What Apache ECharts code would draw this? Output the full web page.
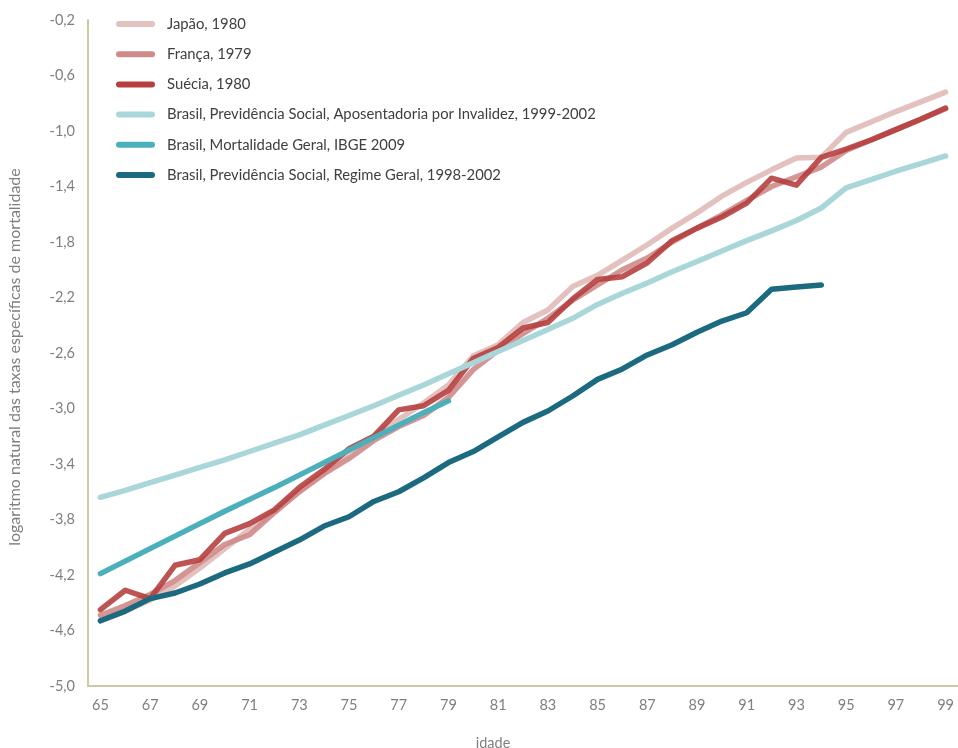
<!DOCTYPE html>
<html>
<head>
<meta charset="utf-8">
<script src="https://cdn.jsdelivr.net/npm/echarts@6/dist/echarts.min.js"></script>
<style>html,body{margin:0;padding:0;background:#fff}#c{width:958px;height:748px}</style>
</head>
<body>
<div id="c"></div>
<script>
const idades = ['65','66','67','68','69','70','71','72','73','74','75','76','77','78','79','80','81','82','83','84','85','86','87','88','89','90','91','92','93','94','95','96','97','98','99'];
const japao = [-4.53,-4.46,-4.38,-4.28,-4.15,-4.01,-3.87,-3.74,-3.60,-3.46,-3.31,-3.20,-3.08,-2.96,-2.83,-2.62,-2.54,-2.38,-2.29,-2.12,-2.04,-1.93,-1.82,-1.70,-1.59,-1.47,-1.37,-1.28,-1.195,-1.19,-1.01,-0.935,-0.86,-0.79,-0.72];
const franca = [-4.49,-4.42,-4.34,-4.24,-4.11,-3.98,-3.91,-3.75,-3.60,-3.47,-3.36,-3.23,-3.13,-3.05,-2.92,-2.72,-2.58,-2.46,-2.35,-2.22,-2.11,-2.00,-1.915,-1.80,-1.70,-1.605,-1.50,-1.40,-1.33,-1.26,-1.14,-1.065,-0.99,-0.915,-0.84];
const suecia = [-4.45,-4.31,-4.37,-4.13,-4.09,-3.90,-3.83,-3.73,-3.57,-3.44,-3.29,-3.20,-3.01,-2.98,-2.87,-2.64,-2.56,-2.42,-2.38,-2.21,-2.07,-2.05,-1.95,-1.79,-1.70,-1.62,-1.52,-1.34,-1.39,-1.19,-1.13,-1.065,-0.99,-0.915,-0.835];
const invalidez = [-3.64,-3.59,-3.535,-3.48,-3.425,-3.37,-3.31,-3.25,-3.19,-3.12,-3.05,-2.98,-2.905,-2.83,-2.75,-2.67,-2.59,-2.51,-2.43,-2.35,-2.25,-2.17,-2.095,-2.015,-1.94,-1.865,-1.79,-1.72,-1.645,-1.555,-1.41,-1.35,-1.29,-1.235,-1.18];
const ibge = [-4.19,-4.10,-4.01,-3.92,-3.83,-3.74,-3.655,-3.57,-3.48,-3.39,-3.30,-3.21,-3.12,-3.03,-2.945];
const regimeGeral = [-4.53,-4.46,-4.37,-4.33,-4.265,-4.185,-4.12,-4.034,-3.948,-3.847,-3.78,-3.67,-3.60,-3.50,-3.39,-3.31,-3.205,-3.10,-3.018,-2.91,-2.79,-2.715,-2.614,-2.54,-2.45,-2.37,-2.31,-2.14,-2.125,-2.11];
const nomes = ['Japão, 1980','França, 1979','Suécia, 1980','Brasil, Previdência Social, Aposentadoria por Invalidez, 1999-2002','Brasil, Mortalidade Geral, IBGE 2009','Brasil, Previdência Social, Regime Geral, 1998-2002'];
const cores = ['#e2c1be','#cf8b89','#b6403f','#a8d6d9','#4bb0bc','#1b6a80'];
const dados = [japao, franca, suecia, invalidez, ibge, regimeGeral];

const FONT = 'Lato, "Open Sans", sans-serif';
const chart = echarts.init(document.getElementById('c'));
chart.setOption({
  animation: false,
  textStyle: {fontFamily: FONT},
  grid: {left: 88, right: 0, top: 20, bottom: 62, containLabel: false, outerBoundsMode: 'none'},
  legend: {
    data: nomes,
    orient: 'vertical',
    left: 111,
    top: 9,
    itemWidth: 39,
    itemHeight: 6,
    itemGap: 10.2,
    icon: 'path://M3,0 L36,0 A3,3 0 0 1 36,6 L3,6 A3,3 0 0 1 3,0 Z',
    textStyle: {fontFamily: FONT, fontSize: 14.8, color: '#404040', lineHeight: 20, padding: [0,0,0,7]}
  },
  xAxis: {
    type: 'category',
    data: idades,
    boundaryGap: true,
    name: 'idade',
    nameLocation: 'middle',
    nameGap: 50,
    nameTextStyle: {fontFamily: FONT, fontSize: 14.5, color: '#7f7f7f', padding: [0,60,0,0]},
    axisLine: {lineStyle: {color: '#cdc9a5', width: 2}},
    axisTick: {show: false},
    axisLabel: {interval: 1, fontFamily: FONT, fontSize: 14.5, color: '#7f7f7f', margin: 12},
    splitLine: {show: false}
  },
  yAxis: {
    type: 'value',
    min: -5,
    max: -0.2,
    interval: 0.4,
    name: 'logaritmo natural das taxas específicas de mortalidade',
    nameLocation: 'middle',
    nameGap: 65,
    nameTextStyle: {fontFamily: FONT, fontSize: 16, color: '#7f7f7f', padding: [0,8,0,0]},
    axisLine: {show: true, lineStyle: {color: '#cdc9a5', width: 2}},
    axisTick: {show: false},
    splitLine: {show: false},
    axisLabel: {fontFamily: FONT, fontSize: 14.5, color: '#7f7f7f', margin: 13,
      formatter: v => v.toFixed(1).replace('.', ',')}
  },
  series: nomes.map((n, i) => ({
    name: n,
    type: 'line',
    data: dados[i],
    showSymbol: false,
    symbol: 'none',
    smooth: false,
    z: 2 + i,
    itemStyle: {color: cores[i]},
    lineStyle: {color: cores[i], width: 5.5, cap: 'round', join: 'round', opacity: (i === 1 || i === 2) ? 0.9 : 1}
  }))
});
</script>
</body>
</html>
